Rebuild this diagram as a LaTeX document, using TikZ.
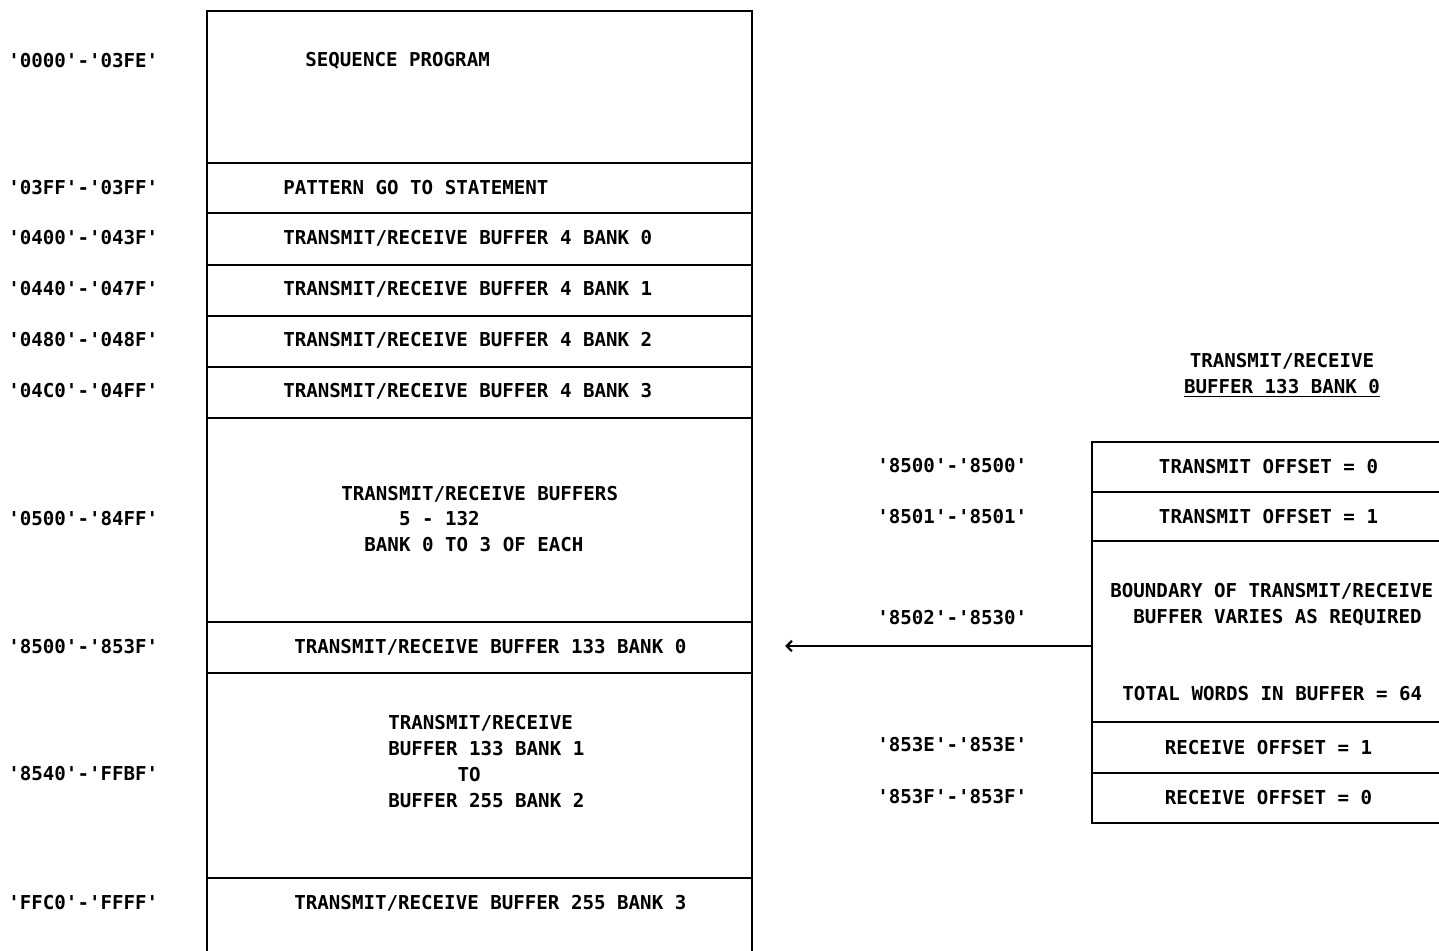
\documentclass[tikz,border=0pt]{standalone}
\usepackage{fontspec}
\setmonofont{DejaVu Sans Mono}
\usetikzlibrary{arrows.meta, positioning}

\begin{document}
\begin{tikzpicture}[
    x=0.02cm, y=-0.02cm,
    >={Straight Barb[length=3pt, width=6pt, line width=1.3pt]},
    every node/.style={font=\ttfamily\bfseries\fontsize{10.9}{14.7}\selectfont},
    cell/.style={draw, line width=0.8pt, inner sep=0pt, minimum width=10.9cm, minimum height=#1},
    side/.style={draw, line width=0.8pt, inner sep=0pt, minimum width=7.06cm, minimum height=#1},
    txt/.style={anchor=west, inner sep=0pt, align=left},
    addr/.style={anchor=west, inner sep=0pt},
]
    \useasboundingbox (0,0) rectangle (1439,950);
    \fill[white] (0,0) rectangle (1439,950);
    \clip (0,0) rectangle (1439,950);

    % memory map
    \node[cell=3.04cm] (seq)   at (479.5,87)    {};
    \node[cell=1.0cm]  (pat)   at (479.5,188)   {};
    \node[cell=1.04cm] (bfa)   at (479.5,239)   {};
    \node[cell=1.02cm] (bfb)   at (479.5,290.5) {};
    \node[cell=1.02cm] (bfc)   at (479.5,341.5) {};
    \node[cell=1.02cm] (bfd)   at (479.5,392.5) {};
    \node[cell=4.08cm] (bufs)  at (479.5,520)   {};
    \node[cell=1.02cm] (bk133) at (479.5,647.5) {};
    \node[cell=4.1cm]  (bkmid) at (479.5,775.5) {};
    \node[cell=2.04cm] (bk255) at (479.5,929)   {};

    \node[txt] (seqt)  at (305,61)  {SEQUENCE PROGRAM};
    \node[txt] (patt)  at (283,188) {PATTERN GO TO STATEMENT};
    \node[txt] (bfat)  at (283,238) {TRANSMIT/RECEIVE BUFFER 4 BANK 0};
    \node[txt] (bfbt)  at (283,289) {TRANSMIT/RECEIVE BUFFER 4 BANK 1};
    \node[txt] (bfct)  at (283,340) {TRANSMIT/RECEIVE BUFFER 4 BANK 2};
    \node[txt] (bfdt)  at (283,391) {TRANSMIT/RECEIVE BUFFER 4 BANK 3};
    \node[txt] (bufst) at (341,519) {TRANSMIT/RECEIVE BUFFERS\\\hphantom{TRANS}5 - 132\\\hphantom{TR}BANK 0 TO 3 OF EACH};
    \node[txt] (bk133t) at (294,647) {TRANSMIT/RECEIVE BUFFER 133 BANK 0};
    \node[txt] (bkmidt) at (388,761.5) {TRANSMIT/RECEIVE\\BUFFER 133 BANK 1\\\hphantom{TOOOOO}TO\\BUFFER 255 BANK 2};
    \node[txt] (bk255t) at (294,903) {TRANSMIT/RECEIVE BUFFER 255 BANK 3};

    % addresses
    \node[addr] (aseq)  at (8,61)  {'0000'-'03FE'};
    \node[addr] (apat)  at (8,188) {'03FF'-'03FF'};
    \node[addr] (abfa)  at (8,238) {'0400'-'043F'};
    \node[addr] (abfb)  at (8,289) {'0440'-'047F'};
    \node[addr] (abfc)  at (8,340) {'0480'-'048F'};
    \node[addr] (abfd)  at (8,391) {'04C0'-'04FF'};
    \node[addr] (abufs) at (8,519) {'0500'-'84FF'};
    \node[addr] (abk133) at (8,647) {'8500'-'853F'};
    \node[addr] (abkmid) at (8,774) {'8540'-'FFBF'};
    \node[addr] (abk255) at (8,903) {'FFC0'-'FFFF'};

    % buffer 133 bank 0 detail
    \node[align=center, inner sep=0pt] (title) at (1282,375) {TRANSMIT/RECEIVE\\\underline{BUFFER 133 BANK 0}};
    \node[side=1.0cm]  (toff0) at (1268.5,467)   {TRANSMIT OFFSET = 0};
    \node[side=0.98cm] (toff1) at (1268.5,516.5) {TRANSMIT OFFSET = 1};
    \node[side=3.62cm] (bound) at (1268.5,631.5) {};
    \node[side=1.02cm] (roff1) at (1268.5,747.5) {RECEIVE OFFSET = 1};
    \node[side=1.0cm]  (roff0) at (1268.5,798)   {RECEIVE OFFSET = 0};
    \node[txt] (boundt) at (1110,605) {BOUNDARY OF TRANSMIT/RECEIVE\\\hphantom{BU}BUFFER VARIES AS REQUIRED};
    \node[txt] (totalt) at (1122,694) {TOTAL WORDS IN BUFFER = 64};

    \node[addr] (atoff0) at (877,466) {'8500'-'8500'};
    \node[addr] (atoff1) at (877,517) {'8501'-'8501'};
    \node[addr] (abound) at (877,618) {'8502'-'8530'};
    \node[addr] (aroff1) at (877,745) {'853E'-'853E'};
    \node[addr] (aroff0) at (877,797) {'853F'-'853F'};

    \coordinate (tip) at (785,646);
    \draw[->, line width=0.8pt] (tip -| bound.west) -- (tip);
\end{tikzpicture}
\end{document}
